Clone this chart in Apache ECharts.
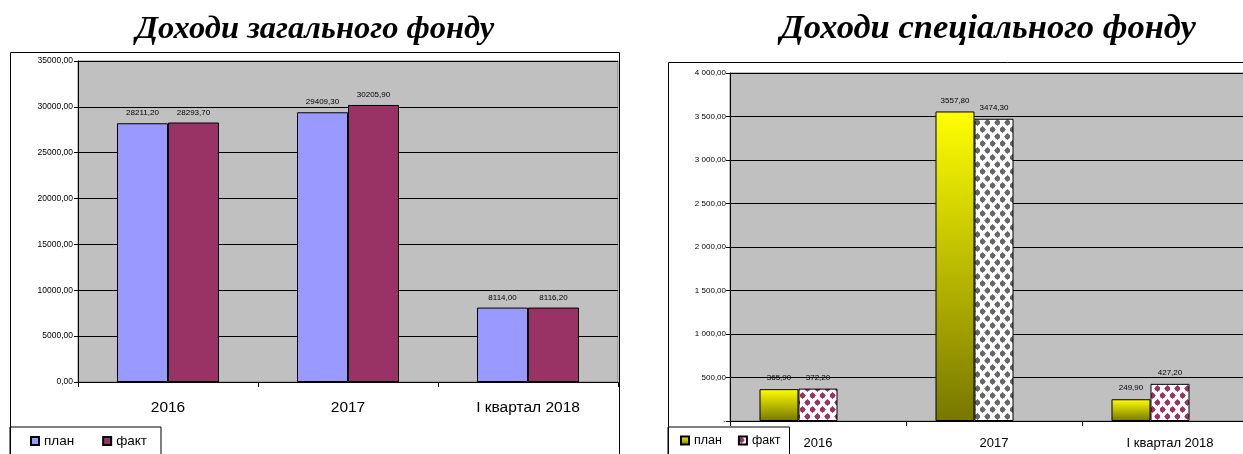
<!DOCTYPE html>
<html>
<head>
<meta charset="utf-8">
<script src="https://cdn.jsdelivr.net/npm/echarts@6/dist/echarts.min.js"></script>
<style>
  html, body { margin: 0; padding: 0; width: 1243px; height: 454px; overflow: hidden; background: #fff; }
  #general { position: absolute; left: 0; top: 0; width: 630px; height: 454px; }
  #special { position: absolute; left: 630px; top: 0; width: 716px; height: 454px; }
</style>
</head>
<body>
<div id="general"></div>
<div id="special"></div>
<script>
// Budget revenue, thousand UAH
const categories = ['2016', '2017', 'І квартал 2018'];
const seriesNames = ['план', 'факт'];

const generalPlan = [28211.2, 29409.3, 8114.0];
const generalFact = [28293.7, 30205.9, 8116.2];

const specialPlan = [365.9, 3557.8, 249.9];
const specialFact = [372.2, 3474.3, 427.2];

const generalTitle = 'Доходи загального фонду';
const specialTitle = 'Доходи спеціального фонду';

const sans = "'Liberation Sans', Arial, sans-serif";
const serif = "'Liberation Serif', 'Times New Roman', serif";

// "1234,50"
const comma = v => Number(v).toFixed(2).replace('.', ',');
// "1 234,50", zero shown as a dash
const spaced = v => {
  if (Number(v) === 0) return '-';
  const parts = Number(v).toFixed(2).split('.');
  return parts[0].replace(/\B(?=(\d{3})+(?!\d))/g, ' ') + ',' + parts[1];
};

// white tile with a staggered grid of rounded diamonds
function dotPattern(color) {
  const w = 10, h = 14;
  const c = document.createElement('canvas');
  c.width = w; c.height = h;
  const g = c.getContext('2d');
  g.fillStyle = '#ffffff';
  g.fillRect(0, 0, w, h);
  g.fillStyle = color;
  [[2.5, 3.5], [7.5, 10.5]].forEach(([x, y]) => {
    g.beginPath();
    g.moveTo(x, y - 3.8);
    g.quadraticCurveTo(x + 1.2, y - 1.2, x + 3.4, y);
    g.quadraticCurveTo(x + 1.2, y + 1.2, x, y + 3.8);
    g.quadraticCurveTo(x - 1.2, y + 1.2, x - 3.4, y);
    g.quadraticCurveTo(x - 1.2, y - 1.2, x, y - 3.8);
    g.closePath();
    g.fill();
    g.beginPath();
    g.arc(x, y, 2.6, 0, Math.PI * 2);
    g.fill();
  });
  return { image: c, repeat: 'repeat' };
}

const barBorder = { borderColor: '#000', borderWidth: 1 };
const valueLabel = (dist) => ({
  show: true, position: 'top', distance: dist,
  fontSize: 8, color: '#000', fontFamily: sans,
  formatter: p => comma(p.value)
});

function valueAxis(max, interval, fmt, size, margin) {
  return {
    type: 'value', min: 0, max: max, interval: interval,
    axisLine: { show: true, lineStyle: { color: '#000', width: 1 } },
    axisTick: { show: true, length: 4, lineStyle: { color: '#000' } },
    axisLabel: { formatter: fmt, fontSize: size, color: '#000', fontFamily: sans, margin: margin },
    splitLine: { show: true, lineStyle: { color: '#000', width: 1 } }
  };
}

function categoryAxis(size, margin) {
  return {
    type: 'category', data: categories,
    axisLine: { show: true, lineStyle: { color: '#000', width: 1 } },
    axisTick: { show: true, alignWithLabel: false, length: 5, lineStyle: { color: '#000' } },
    axisLabel: { fontSize: size, color: '#000', fontFamily: sans, margin: margin }
  };
}

const titleStyle = size => ({ fontFamily: serif, fontSize: size, fontWeight: 'bold', fontStyle: 'italic', color: '#000' });

// ---- general fund ----
const general = echarts.init(document.getElementById('general'), null, { renderer: 'canvas' });
general.setOption({
  animation: false,
  title: { text: generalTitle, left: 'center', top: 8, textStyle: titleStyle(32.5) },
  graphic: [{
    type: 'rect', silent: true, z: 100,
    shape: { x: 10.5, y: 52.5, width: 609, height: 460 },
    style: { fill: null, stroke: '#000', lineWidth: 1 }
  }],
  grid: {
    left: 78, top: 61, width: 540, height: 321,
    show: true, backgroundColor: '#c0c0c0', borderColor: '#808080', borderWidth: 1
  },
  legend: {
    left: 10, top: 427, data: seriesNames, icon: 'rect',
    itemWidth: 8, itemHeight: 8, itemGap: 28,
    borderColor: '#000', borderWidth: 1, padding: [7, 14, 30, 20],
    textStyle: { fontSize: 13.5, color: '#000', fontFamily: sans }
  },
  xAxis: categoryAxis(15.5, 18),
  yAxis: valueAxis(35000, 5000, comma, 8.5, 5),
  series: [
    { name: seriesNames[0], type: 'bar', data: generalPlan, barWidth: 51, barGap: '0%',
      itemStyle: Object.assign({ color: '#9999ff' }, barBorder), label: valueLabel(6) },
    { name: seriesNames[1], type: 'bar', data: generalFact, barWidth: 51, barGap: '0%',
      itemStyle: Object.assign({ color: '#993366' }, barBorder), label: valueLabel(6) }
  ]
});

// ---- special fund ----
const factColors = ['#993366', '#666666', '#993366'];
const planGradient = {
  type: 'linear', x: 0, y: 0, x2: 0, y2: 1,
  colorStops: [{ offset: 0, color: '#ffff00' }, { offset: 1, color: '#777700' }]
};

const special = echarts.init(document.getElementById('special'), null, { renderer: 'canvas' });
special.setOption({
  animation: false,
  title: { text: specialTitle, left: 'center', top: 7, textStyle: titleStyle(34.5) },
  graphic: [{
    type: 'rect', silent: true, z: 100,
    shape: { x: 38.5, y: 62.5, width: 800, height: 460 },
    style: { fill: null, stroke: '#000', lineWidth: 1 }
  }],
  grid: {
    left: 100, top: 73, width: 528, height: 348,
    show: true, backgroundColor: '#c0c0c0', borderColor: '#808080', borderWidth: 1
  },
  legend: {
    left: 38, top: 427, data: seriesNames, icon: 'rect',
    itemWidth: 8, itemHeight: 8, itemGap: 16,
    borderColor: '#000', borderWidth: 1, padding: [7, 9, 30, 12],
    textStyle: { fontSize: 12.5, color: '#000', fontFamily: sans }
  },
  xAxis: categoryAxis(13, 16),
  yAxis: valueAxis(4000, 500, spaced, 8, 4),
  series: [
    { name: seriesNames[0], type: 'bar', data: specialPlan, barWidth: 39, barGap: '0%',
      itemStyle: Object.assign({ color: planGradient }, barBorder), label: valueLabel(7) },
    { name: seriesNames[1], type: 'bar', barWidth: 39, barGap: '0%',
      data: specialFact.map((v, i) => ({ value: v, itemStyle: { color: dotPattern(factColors[i]) } })),
      itemStyle: Object.assign({ color: dotPattern(factColors[0]) }, barBorder), label: valueLabel(7) },
    // empty third slot in each group
    { name: 'gap', type: 'bar', data: ['-', '-', '-'], barWidth: 39, barGap: '0%' }
  ]
});
</script>
</body>
</html>
